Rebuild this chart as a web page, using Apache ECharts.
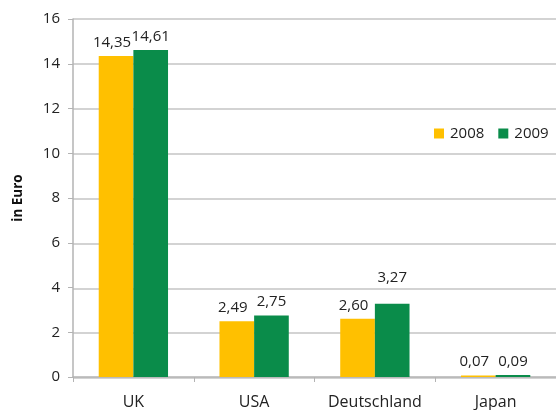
<!DOCTYPE html>
<html>
<head>
<meta charset="utf-8">
<script src="https://cdn.jsdelivr.net/npm/echarts@6/dist/echarts.min.js"></script>
<style>html,body{margin:0;padding:0;background:#fff}#c{width:556px;height:410px}</style>
</head>
<body>
<div id="c"></div>
<script>
const categories = ['UK', 'USA', 'Deutschland', 'Japan'];
const values2008 = [14.35, 2.49, 2.60, 0.07];
const values2009 = [14.61, 2.75, 3.27, 0.09];
const yTicks = { min: 0, max: 16, interval: 2 };
const seriesNames = ['2008', '2009'];

const FONT = '"Open Sans", sans-serif';
const chart = echarts.init(document.getElementById('c'));
const fmt = v => v.toFixed(2).replace('.', ',');

function makeData(vals, raiseIdx) {
  return vals.map((v, i) => i === raiseIdx ? { value: v, label: { offset: [0, -13] } } : v);
}

chart.setOption({
  animation: false,
  textStyle: { fontFamily: FONT },
  legend: {
    data: seriesNames,
    orient: 'horizontal',
    left: 434, top: 126, padding: 0, width: 140,
    itemWidth: 10, itemHeight: 10, itemGap: 14,
    icon: 'rect',
    textStyle: { fontSize: 15, color: '#222', fontFamily: FONT, padding: [0, 0, 0, 1] }
  },
  grid: [
    { left: 73, top: 19, width: 488, bottom: 32, containLabel: false },
    { left: 73, top: 19, right: 0, bottom: 32, containLabel: false }
  ],
  xAxis: [
    {
      type: 'category', data: categories, gridIndex: 0,
      axisLine: { lineStyle: { color: '#b3b3b3', width: 1.5 } },
      axisTick: { show: true, length: 5, alignWithLabel: false, lineStyle: { color: '#b3b3b3' } },
      axisLabel: { interval: 0, fontSize: 16, color: '#222', margin: 17, fontFamily: FONT }
    },
    { type: 'value', gridIndex: 1, show: false, min: 0, max: 1 }
  ],
  yAxis: [
    {
      type: 'value', gridIndex: 0, min: yTicks.min, max: yTicks.max, interval: yTicks.interval,
      name: 'in Euro', nameLocation: 'middle', nameGap: 48,
      nameTextStyle: { fontWeight: 'bold', fontSize: 13.5, color: '#111', fontFamily: FONT },
      axisLine: { show: true, lineStyle: { color: '#b3b3b3', width: 1.5 } },
      axisTick: { show: true, length: 5, inside: false, lineStyle: { color: '#b3b3b3' } },
      axisLabel: { fontSize: 15, color: '#222', margin: 13, fontFamily: FONT },
      splitLine: { show: false }
    },
    {
      type: 'value', gridIndex: 1, min: yTicks.min, max: yTicks.max, interval: yTicks.interval,
      axisLine: { show: false }, axisTick: { show: false }, axisLabel: { show: false },
      splitLine: { show: true, lineStyle: { color: '#c4c4c4', width: 1.5 } }
    }
  ],
  series: [
    {
      name: seriesNames[0], type: 'bar', xAxisIndex: 0, yAxisIndex: 0,
      data: makeData(values2008, -1),
      barGap: '0%', barCategoryGap: '42.6%', z: 3,
      itemStyle: { color: '#FFC000' },
      label: { show: true, position: 'top', distance: 6, offset: [-4, 0], fontSize: 15, color: '#222', fontFamily: FONT,
        formatter: p => fmt(p.value) }
    },
    {
      name: seriesNames[1], type: 'bar', xAxisIndex: 0, yAxisIndex: 0,
      data: makeData(values2009, 2),
      barGap: '0%', barCategoryGap: '42.6%', z: 3,
      itemStyle: { color: '#0A8C4A' },
      label: { show: true, position: 'top', distance: 6, fontSize: 15, color: '#222', fontFamily: FONT,
        formatter: p => fmt(p.value) }
    }
  ]
});
</script>
</body>
</html>
